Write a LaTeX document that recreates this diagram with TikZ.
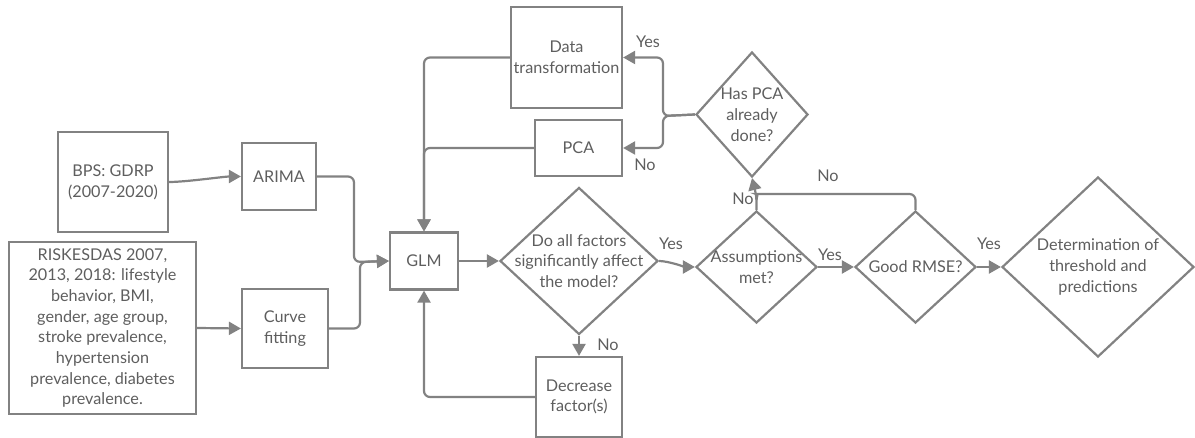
\documentclass[tikz,border=0pt]{standalone}
\usepackage{fontspec}
\setmainfont{Lato}
\usetikzlibrary{arrows.meta,shapes.geometric}
\definecolor{ln}{HTML}{828282}
\definecolor{tx}{HTML}{5E5E5E}
\begin{document}
\begin{tikzpicture}[x=1pt,y=-1pt,
  every node/.style={text=tx,font=\fontsize{16.2}{20.7}\selectfont},
  box/.style={draw=ln,line width=2.2pt,rectangle,inner sep=0pt,align=center},
  dia/.style={draw=ln,line width=2.2pt,diamond,inner sep=0pt,aspect=1},
  txt/.style={align=center,inner sep=0pt},
  lab/.style={inner sep=0pt},
  tip/.style={-{Triangle[length=12pt,width=13pt]}},
  conn/.style={draw=ln,line width=2.2pt,rounded corners=6pt,tip},
  curvy/.style={draw=ln,line width=2.2pt,tip},
  plain/.style={draw=ln,line width=2.2pt,rounded corners=6pt}]
\useasboundingbox (0,0) rectangle (1195,438);
% boxes
\node[box,minimum width=110,minimum height=100] (bps) at (113,182) {BPS: GDRP\\(2007-2020)};
\node[box,minimum width=74,minimum height=67] (arima) at (279,176.5) {ARIMA};
\node[box,minimum width=187,minimum height=172] (risk) at (102.5,328) {RISKESDAS 2007,\\2013, 2018: lifestyle\\behavior, BMI,\\gender, age group,\\stroke prevalence,\\hypertension\\prevalence, diabetes\\prevalence.};
\node[box,minimum width=86,minimum height=79] (curve) at (285,328.5) {Curve\\fitting};
\node[box,minimum width=68,minimum height=57] (glm) at (424,261) {GLM};
\node[box,minimum width=86,minimum height=80] (dec) at (579,397) {Decrease\\factor(s)};
\node[box,minimum width=111,minimum height=101] (dt) at (566.5,57.5) {};
\node[txt] (dtt) at (566.5,57.5) {Data\\transformation};
\node[box,minimum width=87,minimum height=56] (pca) at (578.5,148) {PCA};
% diamonds
\node[dia,minimum width=158,minimum height=147] (d1) at (579,261) {};
\node[txt] (d1t) at (579,261) {Do all factors\\significantly affect\\the model?};
\node[dia,minimum width=121,minimum height=112] (a1) at (756.5,267) {};
\node[txt] (a1t) at (756.5,267) {Assumptions\\met?};
\node[dia,minimum width=121,minimum height=112] (r1) at (915.5,267) {};
\node[txt] (r1t) at (915.5,267) {Good RMSE?};
\node[dia,minimum width=192,minimum height=180] (det) at (1098,267) {};
\node[txt] (dett) at (1098,267) {Determination of\\threshold and\\predictions};
\node[dia,minimum width=112,minimum height=125] (hp) at (752,114.5) {};
\node[txt] (hpt) at (752,114.5) {Has PCA\\already\\done?};
% connectors
\coordinate (j1) at (354,262);
\coordinate (j2) at (360,262);
\draw[curvy] (bps.east) to[out=0,in=180,looseness=0.6] (arima.west);
\draw[conn] (risk.east) -- (curve.west);
\draw[conn] (arima.east) -| (j1) -- (glm.west);
\draw[conn] (curve.east) -| (j2) -- (glm.west);
\draw[conn] (glm.east) -- (d1.west);
\draw[conn] (d1.south) -- (dec.north);
\draw[conn] (dec.west) -| (glm.south);
\draw[curvy] (d1.east) to[out=0,in=180,looseness=0.6] (a1.west);
\draw[conn] (a1.east) -- (r1.west);
\draw[conn] (r1.east) -- (det.west);
\coordinate (k1) at (756.5,196);
\draw[conn] (a1.north) -- (k1) -- (hp.south);
\draw[plain] (r1.north) |- (762,194) to[out=180,in=90] (756.5,200);
\coordinate (s1) at (663,116);
\draw[conn] (hp.west) -- (s1) |- (dt.east);
\draw[conn] (hp.west) -- (s1) |- (pca.east);
\draw[conn] (dt.west) -| (glm.north);
\draw[conn] (pca.west) -| (glm.north);
% labels
\node[lab] (l1) at (648,42) {Yes};
\node[lab] (l2) at (645,165) {No};
\node[lab] (l3) at (671,244) {Yes};
\node[lab] (l4) at (608,345) {No};
\node[lab] (l5) at (743,199) {No};
\node[lab] (l6) at (828,176) {No};
\node[lab] (l7) at (830,255) {Yes};
\node[lab] (l8) at (989,244) {Yes};
\end{tikzpicture}
\end{document}
